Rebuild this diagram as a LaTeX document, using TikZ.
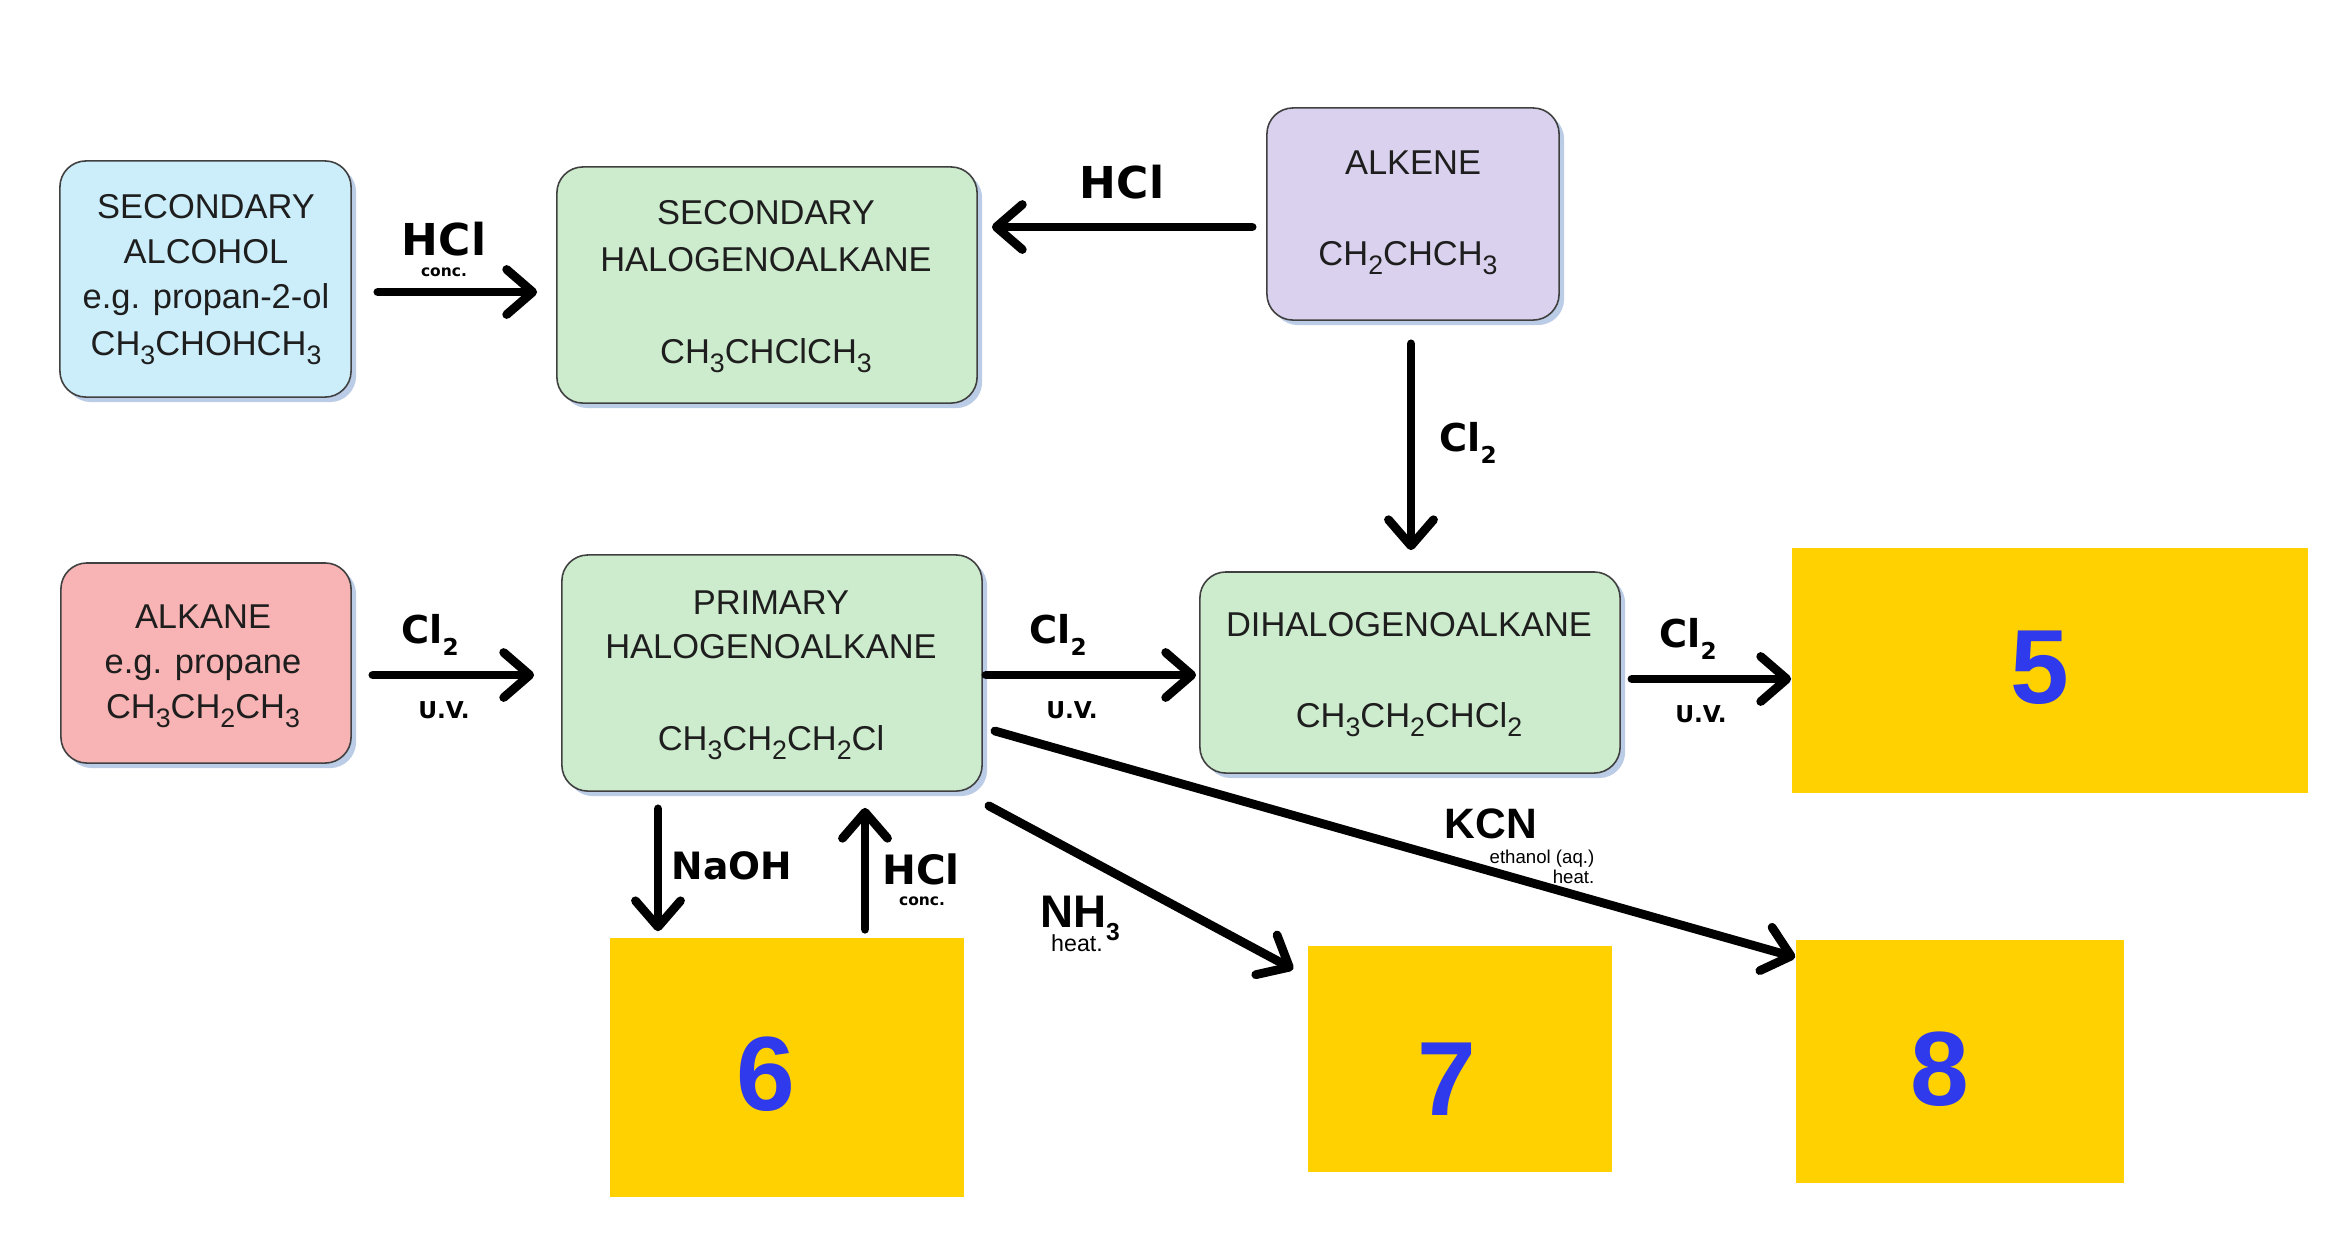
\documentclass[tikz,border=0pt]{standalone}
\usepackage{fontspec}
\setmainfont{Liberation Sans}
\newfontfamily\lblfont{DejaVu Sans}
\usetikzlibrary{arrows.meta,calc,shadows}
\definecolor{cblue}{RGB}{204,238,250}
\definecolor{cgreen}{RGB}{205,235,205}
\definecolor{cpurple}{RGB}{217,209,237}
\definecolor{cpink}{RGB}{248,180,180}
\definecolor{cyellow}{RGB}{255,209,0}
\definecolor{cnum}{RGB}{46,58,235}
\definecolor{cline}{RGB}{64,64,64}
\definecolor{ctext}{RGB}{30,30,30}
\definecolor{cshadow}{RGB}{170,192,225}
\newcommand\sbs[1]{\raisebox{-0.5ex}{\fontsize{7.6}{8}\selectfont #1}}
\newcommand\clsub{Cl\raisebox{-0.6ex}{\fontsize{6.6}{7}\selectfont 2}}
\begin{document}
\begin{tikzpicture}[x=0.01cm,y=-0.01cm,
  chembox/.style={draw=cline, line width=0.45pt, rounded corners=0.26cm, inner sep=0pt,
    drop shadow={shadow xshift=0.05cm, shadow yshift=-0.05cm, fill=cshadow, opacity=0.8}},
  ansbox/.style={fill=cyellow, inner sep=0pt},
  btxt/.style={anchor=base, inner sep=0pt, text=ctext, font=\fontsize{9.8}{12}\selectfont},
  numtxt/.style={anchor=base, inner sep=0pt, text=cnum, font=\fontsize{30}{30}\selectfont\bfseries},
  reag/.style={anchor=base, inner sep=0pt, font=\lblfont\bfseries\fontsize{12.5}{14}\selectfont},
  clt/.style={anchor=base, inner sep=0pt, font=\lblfont\bfseries\fontsize{10.9}{12}\selectfont},
  uvt/.style={anchor=base, inner sep=0pt, font=\lblfont\bfseries\fontsize{6.6}{8}\selectfont},
  conct/.style={anchor=base, inner sep=0pt, font=\lblfont\bfseries\fontsize{4.4}{5}\selectfont},
  arr/.style={line width=2.5pt, line cap=round, -{Straight Barb[length=0.26cm, width=0.45cm, round]}}
]
\useasboundingbox (0,0) rectangle (2336,1244);
\fill[white] (0,0) rectangle (2336,1244);

% chemical boxes
\node[chembox, fill=cblue, minimum width=2.91cm, minimum height=2.36cm] (sa) at (205.5,279) {};
\node[chembox, fill=cgreen, minimum width=4.20cm, minimum height=2.36cm] (sh) at (767,285) {};
\node[chembox, fill=cpurple, minimum width=2.92cm, minimum height=2.12cm] (ae) at (1413,214) {};
\node[chembox, fill=cpink, minimum width=2.90cm, minimum height=2.00cm] (ak) at (206,663) {};
\node[chembox, fill=cgreen, minimum width=4.20cm, minimum height=2.36cm] (ph) at (772,673) {};
\node[chembox, fill=cgreen, minimum width=4.20cm, minimum height=2.01cm] (dh) at (1410,672.5) {};

% answer boxes
\node[ansbox, minimum width=5.16cm, minimum height=2.45cm] (p5) at (2050,670.5) {};
\node[ansbox, minimum width=3.54cm, minimum height=2.59cm] (p6) at (787,1067.5) {};
\node[ansbox, minimum width=3.04cm, minimum height=2.26cm] (p7) at (1460,1059) {};
\node[ansbox, minimum width=3.28cm, minimum height=2.43cm] (p8) at (1960,1061.5) {};

% box texts
\node[btxt] (sa1) at (206,218) {SECONDARY};
\node[btxt] (sa2) at (206,263) {ALCOHOL};
\node[btxt] (sa3) at (206,308) {e.g. propan-2-ol};
\node[btxt] (sa4) at (206,355) {CH\sbs{3}CHOHCH\sbs{3}};

\node[btxt] (sh1) at (766,224) {SECONDARY};
\node[btxt] (sh2) at (766,271) {HALOGENOALKANE};
\node[btxt] (sh3) at (766,363) {CH\sbs{3}CHClCH\sbs{3}};

\node[btxt] (ae1) at (1413,174) {ALKENE};
\node[btxt] (ae2) at (1408,265) {CH\sbs{2}CHCH\sbs{3}};

\node[btxt] (ak1) at (203,628) {ALKANE};
\node[btxt] (ak2) at (203,673) {e.g. propane};
\node[btxt] (ak3) at (203,718) {CH\sbs{3}CH\sbs{2}CH\sbs{3}};

\node[btxt] (ph1) at (771,614) {PRIMARY};
\node[btxt] (ph2) at (771,658) {HALOGENOALKANE};
\node[btxt] (ph3) at (771,750) {CH\sbs{3}CH\sbs{2}CH\sbs{2}Cl};

\node[btxt] (dh1) at (1409,636) {DIHALOGENOALKANE};
\node[btxt] (dh2) at (1409,727) {CH\sbs{3}CH\sbs{2}CHCl\sbs{2}};

% numbers
\node[numtxt] (n5) at (2040,703) {5};
\node[numtxt] (n6) at (766,1110) {6};
\node[numtxt] (n7) at (1447,1115) {7};
\node[numtxt] (n8) at (1940,1105) {8};

% arrows
\draw[arr] ($(sa.east)+(26,13)$) -- ($(sh.west)+(-19,7)$);
\draw[arr] ($(ae.west)+(-14,13)$) -- ($(sh.east)+(14,-58)$);
\draw[arr] ($(ae.south)+(-2,23)$) -- ($(dh.north)+(1,-21)$);
\draw[arr] ($(ak.east)+(21,12)$) -- ($(ph.west)+(-27,2)$);
\draw[arr] ($(ph.east)+(3,2)$) -- ($(dh.west)+(-3,2.5)$);
\draw[arr] ($(dh.east)+(11,6.5)$) -- ($(p5.west)+(0,8.5)$);
\draw[arr] ($(ph.south)+(-114,17)$) -- ($(p6.north)+(-129,-6)$);
\draw[arr] ($(p6.north)+(78,-8)$) -- ($(ph.south)+(93,16)$);
\draw[arr] ($(ph.south east)+(6,14)$) -- ($(p7.north west)+(-14,24)$);
\draw[arr] ($(ph.east)+(12,58)$) -- ($(p8.north west)+(0,18)$);

% reagent labels
\node[reag] (r1) at (444,255) {HCl};
\node[conct] (r1c) at (444,276) {conc.};
\node[reag] (r2) at (1122,198) {HCl};
\node[clt] (r3) at (1468,451) {\clsub};
\node[clt] (r4) at (430,643) {\clsub};
\node[uvt] (r4u) at (444,718) {U.V.};
\node[clt] (r5) at (1058,643) {\clsub};
\node[uvt] (r5u) at (1072,718) {U.V.};
\node[clt] (r6) at (1688,647) {\clsub};
\node[uvt] (r6u) at (1701,722) {U.V.};
\node[anchor=base, inner sep=0pt, font=\lblfont\bfseries\fontsize{10.7}{12}\selectfont] (r7) at (732,879) {NaOH};
\node[anchor=base, inner sep=0pt, font=\lblfont\bfseries\fontsize{11.5}{13}\selectfont] (r8) at (921,884) {HCl};
\node[conct] (r8c) at (922,905) {conc.};
\node[anchor=base, inner sep=0pt, font=\bfseries\fontsize{13}{14}\selectfont] (r9) at (1080,927) {NH\raisebox{-0.55ex}{\fontsize{7}{8}\selectfont 3}};
\node[anchor=base, inner sep=0pt, font=\fontsize{6.6}{7}\selectfont] (r9h) at (1077,951) {heat.};
\node[anchor=base, inner sep=0pt, font=\bfseries\fontsize{12.1}{13}\selectfont] (r10) at (1491,838) {KCN};
\node[anchor=base east, inner sep=0pt, font=\fontsize{5.3}{6}\selectfont] (r10a) at (1595,863) {ethanol (aq.)};
\node[anchor=base east, inner sep=0pt, font=\fontsize{5.3}{6}\selectfont] (r10b) at (1595,883) {heat.};
\end{tikzpicture}
\end{document}
